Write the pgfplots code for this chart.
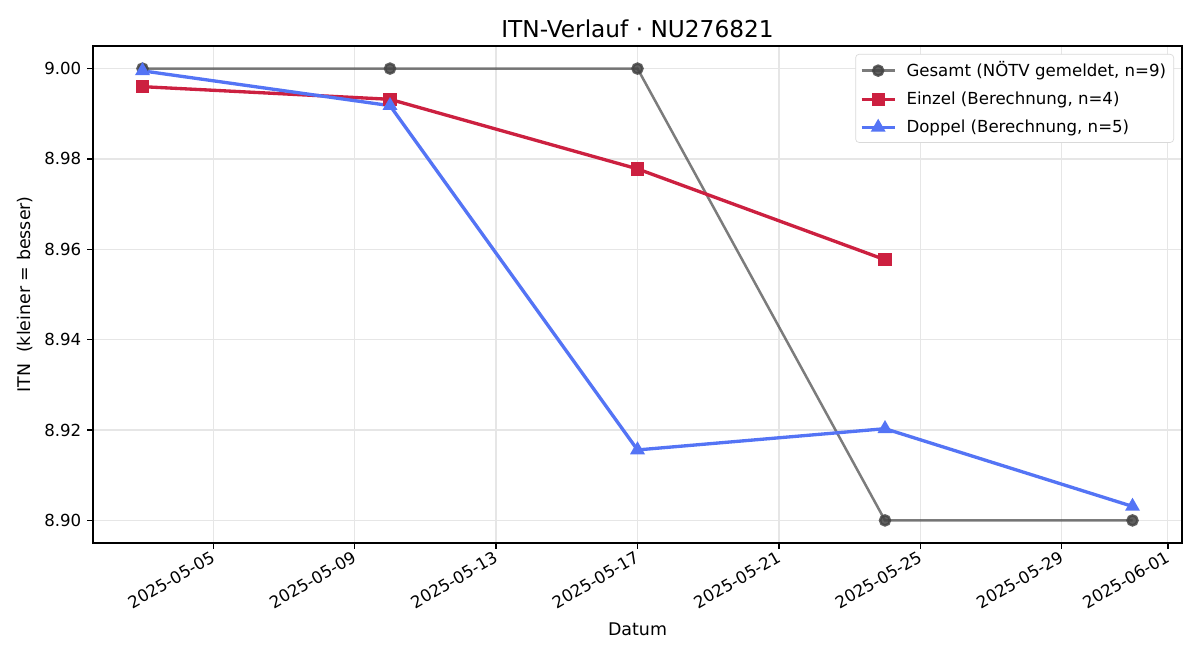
\documentclass[border=0pt]{standalone}
\usepackage{pgfplots}
\pgfplotsset{compat=1.18}
\usepackage{fontspec}
\setmainfont{DejaVu Sans}
\definecolor{cgray}{RGB}{68,68,68}
\definecolor{cred}{RGB}{204,32,64}
\definecolor{cblue}{RGB}{84,116,245}
\definecolor{cgrid}{RGB}{230,230,230}
\begin{document}
\begin{tikzpicture}
\path[use as bounding box] (0,0) rectangle (720bp,396bp);
\begin{axis}[
  at={(55.8bp,70.2bp)}, anchor=south west,
  scale only axis, width=653.4bp, height=298.2bp,
  xmin=0.6, xmax=31.4, ymin=8.895, ymax=9.005,
  xtick={4,8,12,16,20,24,28,31},
  xticklabels={2025-05-05,2025-05-09,2025-05-13,2025-05-17,2025-05-21,2025-05-25,2025-05-29,2025-06-01},
  ytick={8.90,8.92,8.94,8.96,8.98,9.00},
  /pgf/number format/fixed, /pgf/number format/fixed zerofill, /pgf/number format/precision=2,
  /pgf/number format/assume math mode=true,
  xticklabel style={rotate=30, anchor=north east, inner sep=1bp, xshift=-1bp, yshift=1.5bp, font=\fontsize{10}{12}\selectfont},
  yticklabel style={font=\fontsize{10}{12}\selectfont},
  tick align=outside,
  axis line style={line width=0.8bp},
  major tick length=3.5bp,
  every tick/.style={black, line width=0.8bp},
  xtick pos=bottom, ytick pos=left,
  grid=major, grid style={cgrid, line width=0.7bp},
  title={ITN-Verlauf · NU276821},
  title style={font=\fontsize{14}{16}\selectfont, yshift=-4.6bp},
  xlabel={Datum}, ylabel={ITN\ \ (kleiner = besser)},
  xlabel style={yshift=-3bp},
  label style={font=\fontsize{10.5}{12}\selectfont},
  legend style={at={(1,1)}, anchor=north east, xshift=-4.8bp, yshift=-4.8bp,
    draw=black!15, rounded corners=2bp, font=\fontsize{10}{12}\selectfont,
    inner sep=2.5bp, row sep=3.6bp, cells={anchor=west},
    /tikz/every odd column/.append style={column sep=4bp}},
  legend cell align=left,
  legend image code/.code={\draw[mark repeat=2,mark phase=2] plot coordinates {(0bp,0bp)(10bp,0bp)(20bp,0bp)};},
]
\addplot[color=cgray, draw opacity=0.7, line width=1.5bp, mark=*, mark size=3bp, mark options={fill=cgray, draw=cgray, opacity=0.85}]
  coordinates {(2,9.00) (9,9.00) (16,9.00) (23,8.90) (30,8.90)};
\addlegendentry{Gesamt (NÖTV gemeldet, n=9)}
\addplot[color=cred, line width=2bp, mark=square*, mark size=3bp, mark options={fill=cred}]
  coordinates {(2,8.9960) (9,8.9932) (16,8.9778) (23,8.9577)};
\addlegendentry{Einzel (Berechnung, n=4)}
\addplot[color=cblue, line width=2bp, mark=triangle*, mark size=3.2bp, mark options={fill=cblue}]
  coordinates {(2,8.9995) (9,8.9918) (16,8.9156) (23,8.9203) (30,8.9031)};
\addlegendentry{Doppel (Berechnung, n=5)}
\end{axis}
\end{tikzpicture}
\end{document}
